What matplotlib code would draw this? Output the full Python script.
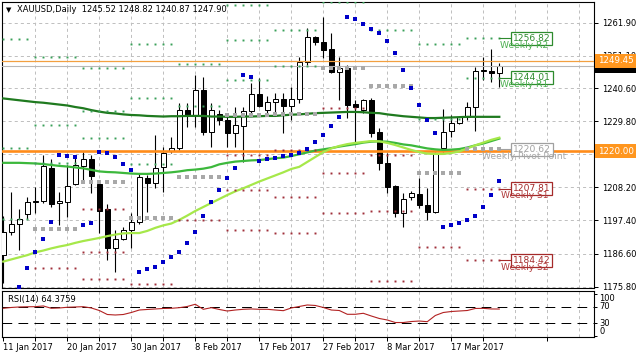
import numpy as np
import matplotlib
matplotlib.use("Agg")
from matplotlib import pyplot as plt
from matplotlib import transforms

plt.rcParams['font.family'] = ['DejaVu Sans']
plt.rcParams['lines.scale_dashes'] = False

nan = np.nan

# daily candles XAUUSD
opens = [1186.1, 1193.6, 1196.2, 1199.5, 1203.3, 1203.6, 1214.6, 1203.0, 1203.5, 1209.3,
         1215.3, 1217.4, 1209.3, 1201.2, 1188.3, 1191.4, 1194.3, 1196.8, 1211.4, 1209.7,
         1214.9, 1220.2, 1220.9, 1233.4, 1231.8, 1240.0, 1226.4, 1232.0, 1230.2, 1226.0,
         1228.3, 1233.1, 1238.6, 1233.4, 1236.1, 1237.0, 1234.8, 1236.9, 1249.2, 1257.3,
         1255.7, 1253.2, 1245.9, 1247.0, 1235.3, 1233.4, 1236.7, 1226.2, 1216.1, 1208.7,
         1199.7, 1205.0, 1206.0, 1202.5, 1200.3, 1220.9, 1226.6, 1229.1, 1231.2, 1234.5,
         1246.2, 1246.2, 1245.52]
highs = [1198.9, 1206.8, 1201.2, 1205.2, 1208.4, 1218.8, 1217.5, 1206.7, 1215.5, 1218.2,
         1219.8, 1218.8, 1210.6, 1202.8, 1194.3, 1195.4, 1199.7, 1212.8, 1212.2, 1225.3,
         1221.5, 1224.7, 1235.6, 1235.6, 1244.8, 1244.3, 1235.6, 1233.5, 1231.8, 1234.5,
         1234.5, 1242.1, 1243.8, 1238.1, 1238.9, 1238.9, 1241.0, 1250.8, 1260.1, 1257.6,
         1263.9, 1258.4, 1250.6, 1248.1, 1236.7, 1237.0, 1237.2, 1227.5, 1219.3, 1209.0,
         1206.3, 1207.1, 1211.2, 1207.9, 1219.8, 1233.7, 1231.8, 1231.5, 1236.1, 1247.6,
         1250.8, 1253.2, 1248.82]
lows = [1177.0, 1192.7, 1187.8, 1197.9, 1199.8, 1203.1, 1201.8, 1195.9, 1198.6, 1209.0,
        1210.6, 1206.5, 1193.2, 1184.5, 1180.7, 1191.0, 1188.3, 1196.3, 1200.3, 1207.9,
        1206.8, 1219.3, 1220.4, 1228.0, 1228.0, 1225.3, 1221.5, 1228.5, 1221.5, 1221.5,
        1216.6, 1231.8, 1234.5, 1231.8, 1232.4, 1225.8, 1230.2, 1235.6, 1248.1, 1254.6,
        1250.3, 1245.4, 1236.7, 1230.7, 1223.1, 1232.4, 1224.7, 1213.9, 1206.5, 1198.4,
        1195.2, 1204.1, 1201.4, 1197.6, 1200.0, 1219.8, 1224.5, 1228.9, 1230.2, 1226.7,
        1243.2, 1242.7, 1240.87]
closes = [1193.6, 1196.3, 1197.9, 1203.4, 1203.6, 1215.3, 1202.8, 1203.8, 1208.7, 1215.5,
          1217.4, 1212.0, 1200.6, 1188.3, 1191.3, 1194.3, 1196.8, 1211.7, 1209.7, 1214.6,
          1219.3, 1220.9, 1233.4, 1231.8, 1240.0, 1226.4, 1233.4, 1230.2, 1226.0, 1228.5,
          1233.1, 1238.6, 1234.8, 1236.1, 1237.0, 1234.7, 1236.9, 1249.2, 1257.1, 1255.5,
          1253.0, 1245.9, 1247.0, 1235.1, 1234.3, 1236.7, 1226.0, 1216.1, 1208.4, 1199.7,
          1204.3, 1206.3, 1202.5, 1200.3, 1219.3, 1226.4, 1229.3, 1231.2, 1234.5, 1246.2,
          1246.3, 1245.4, 1247.90]

# moving averages
ma_dark = [1237.2, 1236.9, 1236.6, 1236.3, 1236.0, 1235.8, 1235.5, 1235.2, 1234.9, 1234.4,
           1234.0, 1233.4, 1232.9, 1232.5, 1232.3, 1232.0, 1231.8, 1231.7, 1231.5, 1231.4,
           1231.3, 1231.4, 1231.4, 1231.5, 1231.5, 1231.5, 1231.3, 1231.3, 1231.2, 1231.2,
           1231.3, 1231.3, 1231.4, 1231.5, 1231.5, 1231.7, 1231.9, 1232.0, 1232.2, 1232.4,
           1232.5, 1232.6, 1232.7, 1232.8, 1232.8, 1232.7, 1232.5, 1232.4, 1232.0, 1231.7,
           1231.4, 1231.2, 1231.0, 1230.8, 1230.8, 1230.9, 1231.0, 1231.1, 1231.2, 1231.2,
           1231.2, 1231.2, 1231.2]
ma_mid = [1216.2, 1216.2, 1216.2, 1216.1, 1216.0, 1215.8, 1215.5, 1215.2, 1215.0, 1214.7,
          1214.4, 1213.9, 1213.4, 1213.2, 1213.1, 1212.9, 1212.7, 1212.6, 1212.6, 1212.7,
          1212.9, 1213.1, 1213.4, 1213.8, 1214.0, 1214.3, 1214.8, 1215.7, 1216.2, 1216.6,
          1216.8, 1217.0, 1217.1, 1217.4, 1217.7, 1217.9, 1218.4, 1219.0, 1219.6, 1220.2,
          1220.6, 1221.0, 1221.5, 1221.9, 1222.3, 1222.8, 1223.1, 1223.2, 1223.1, 1222.7,
          1222.2, 1221.9, 1221.4, 1220.9, 1220.6, 1220.4, 1220.5, 1220.7, 1221.2, 1221.9,
          1222.5, 1223.3, 1224.1]
ma_lime = [1184.0, 1184.7, 1185.4, 1186.1, 1187.0, 1187.6, 1188.3, 1188.9, 1189.4, 1190.1,
           1190.7, 1191.2, 1191.7, 1192.3, 1192.8, 1193.2, 1193.3, 1193.3, 1194.0, 1195.0,
           1195.8, 1196.4, 1197.6, 1199.0, 1200.5, 1201.8, 1203.1, 1204.4, 1205.7, 1206.9,
           1207.9, 1209.0, 1210.1, 1211.1, 1212.1, 1213.1, 1214.2, 1214.9, 1216.5, 1218.1,
           1219.7, 1220.9, 1221.7, 1222.3, 1222.7, 1223.0, 1223.3, 1223.2, 1222.7, 1222.0,
           1221.2, 1220.4, 1219.7, 1219.2, 1219.1, 1219.1, 1219.4, 1219.9, 1220.9, 1221.9,
           1222.8, 1223.7, 1224.4]

# parabolic SAR
sar = [nan, nan, 1175.6, 1181.9, 1187.1, 1191.4, 1196.9, 1218.8, 1218.4, 1218.2,
       1195.9, 1196.7, 1219.8, 1219.3, 1218.2, 1215.8, 1213.9, 1180.7, 1181.5, 1182.1,
       1183.9, 1185.4, 1187.1, 1190.2, 1193.6, 1198.9, 1203.4, 1207.3, 1211.2, 1214.6,
       1244.8, 1244.1, 1216.8, 1217.4, 1217.8, 1218.4, 1218.8, 1219.3, 1220.6, 1223.0,
       1225.3, 1228.2, 1231.1, 1263.9, 1263.1, 1261.5, 1259.8, 1258.6, 1255.9, 1251.9,
       1246.5, 1240.5, 1235.0, 1230.2, 1225.9, 1195.2, 1195.9, 1196.6, 1197.6, 1198.9,
       1201.8, 1205.7, 1210.4]

# weekly pivot levels, one value per week segment
seg_start = [0, 4, 10, 16, 22, 28, 34, 40, 46, 52, 58]
seg_end = [3, 9, 15, 21, 27, 33, 39, 45, 51, 57, 62]
piv_r3 = [1256.5, 1250.6, 1247.1, 1255.0, 1271.7, 1267.6, 1274.9, 1302.8, 1300.2, 1272.6, 1280.2]
piv_r2 = [1221.1, 1228.5, 1233.0, 1237.4, 1248.5, 1256.2, 1259.4, 1281.4, 1282.0, 1254.9, 1256.82]
piv_r1 = [1197.8, 1216.0, 1224.2, 1215.8, 1234.7, 1243.2, 1247.7, 1268.5, 1259.4, 1230.6, 1244.01]
piv_p = [nan, 1194.5, 1210.1, 1198.3, 1211.5, 1231.8, 1232.2, 1247.1, 1241.2, 1212.9, 1220.62]
piv_s1 = [nan, 1182.0, 1201.3, 1176.7, 1197.7, 1218.8, 1220.5, 1234.2, 1218.6, 1188.6, 1207.81]
piv_s2 = [nan, 1160.5, 1187.2, 1159.2, 1174.5, 1207.4, 1205.0, 1212.8, 1200.4, 1170.9, 1184.42]
piv_s3 = [nan, 1148.0, 1178.4, 1137.6, 1160.7, 1194.4, 1193.3, 1199.9, 1177.8, 1146.6, 1171.6]

# RSI(14)
rsi = [66.1, 68.1, 69.3, 69.8, 70.0, 71.7, 66.1, 66.9, 68.6, 69.3,
       70.0, 66.9, 60.8, 51.2, 50.0, 51.2, 56.0, 62.0, 63.3, 64.5,
       65.7, 66.1, 67.6, 70.5, 75.8, 63.7, 67.6, 63.3, 59.6, 62.0,
       63.7, 64.5, 63.7, 63.7, 62.0, 60.4, 66.9, 70.5, 74.1, 72.9,
       68.1, 62.0, 60.8, 51.7, 51.7, 54.1, 47.6, 41.6, 38.0, 31.9,
       31.9, 34.3, 35.5, 33.9, 48.8, 56.0, 58.4, 59.6, 60.8, 65.7,
       66.0, 64.5, 64.38]

price_ticks = [1261.90, 1251.10, 1240.60, 1229.80, 1219.00, 1208.20, 1197.40, 1186.60, 1175.80]
date_pos = [0, 8, 16, 24, 32, 40, 48, 56]
date_labels = ["11 Jan 2017", "20 Jan 2017", "30 Jan 2017", "8 Feb 2017",
               "17 Feb 2017", "27 Feb 2017", "8 Mar 2017", "17 Mar 2017"]

line_orange = 1220.00
line_orange_thin = 1249.45
bid = 1247.90

W, H = 637.0, 358.0
fig = plt.figure(figsize=(W / 100, H / 100), dpi=100)
ax = fig.add_axes([2 / W, 70 / H, 592.3 / W, 286 / H])
ax_rsi = fig.add_axes([2 / W, 21.5 / H, 592.3 / W, 45.5 / H])

n = len(opens)
x = np.arange(n)
o = np.array(opens); c = np.array(closes)
lo = np.minimum(o, c); hi = np.maximum(o, c)
up = c >= o

xlim = (-0.1625, 73.875)
grid_kw = dict(color='#c0c0c0', lw=0.72, ls=(0, (2.2, 2.2)))

# --- main panel
ax.set_xlim(*xlim)
ax.set_ylim(1175.38, 1268.65)
for v in np.arange(4, 74, 4):
    ax.axvline(v, zorder=0, **grid_kw)
for p in price_ticks:
    ax.axhline(p, zorder=0, **grid_kw)

ax.vlines(x, lows, highs, color='black', lw=0.8, zorder=2)
ax.bar(x, np.maximum(hi - lo, 0.3), bottom=lo, width=0.62,
       color=np.where(up, 'white', 'black'), edgecolor='black', lw=0.72, zorder=3)

ax.axhline(line_orange_thin, color='#f2a040', lw=0.9, zorder=4)
ax.axhline(bid, color='#b8b8b8', lw=0.8, zorder=4)
ax.axhline(line_orange, color='#ff8c1a', lw=1.9, zorder=4)

ax.plot(x, ma_dark, color='#1f7a1f', lw=1.6, zorder=5)
ax.plot(x, ma_mid, color='#3cb83c', lw=1.6, zorder=5)
ax.plot(x, ma_lime, color='#a6e84a', lw=1.6, zorder=5)

# pivots
green, grey, red = '#3aa05a', '#a8a8a8', '#a0303a'
levels = [(piv_r3, green, 1.4), (piv_r2, green, 1.4), (piv_r1, green, 1.4),
          (piv_p, grey, 2.2), (piv_s1, red, 1.4), (piv_s2, red, 1.4), (piv_s3, red, 1.4)]
for vals, col, ms in levels:
    for s, e, v in zip(seg_start, seg_end, vals):
        xs = np.arange(s, e + 1)
        ax.plot(xs, np.full(len(xs), v), 's', color=col, ms=ms, mew=0, zorder=6)

ax.plot(x, sar, 's', color='#0000c8', ms=2.2, mew=0, zorder=7)

labels_k = [(piv_r2[-1], 'Weekly R2', '#2e8b2e', '#4caf50'),
            (piv_r1[-1], 'Weekly R1', '#2e8b2e', '#4caf50'),
            (piv_p[-1], 'Weekly Pivot Point', '#a0a0a0', '#a8a8a8'),
            (piv_s1[-1], 'Weekly S1', '#a52a2a', '#b03a3a'),
            (piv_s2[-1], 'Weekly S2', '#a52a2a', '#b03a3a')]
for v, name, ec, tc in labels_k:
    ax.plot([seg_end[-1], 63.4], [v, v], color=ec, lw=0.8, zorder=7)
    ax.annotate(name, (65.15, v), xytext=(0, -5.2), textcoords='offset points',
                ha='center', va='center', fontsize=6.6, color=tc, zorder=9)
    ax.text(63.7, v, '%.2f' % v, ha='left', va='center', fontsize=6.6, color=ec, zorder=8,
            bbox=dict(boxstyle='square,pad=0.2', fc='white', ec=ec, lw=0.9))

ax.yaxis.tick_right()
ax.set_yticks(price_ticks)
ax.set_yticklabels(['%.2f' % p for p in price_ticks])
ax.tick_params(axis='y', length=3, width=0.72, pad=2.5, labelsize=6, colors='black')
ax.set_xticks([])
for sp in ax.spines.values():
    sp.set_linewidth(0.8)
    sp.set_color('black')

trans = transforms.blended_transform_factory(ax.transAxes, ax.transData)
ax.text(1 + 3.5 / 592.3, bid, '%.2f' % bid, transform=trans, ha='left', va='center',
        fontsize=6.3, color='white', clip_on=False, zorder=20,
        bbox=dict(boxstyle='square,pad=0.3', fc='black', ec='none'))
for v in [line_orange_thin, line_orange]:
    ax.text(1 + 3.5 / 592.3, v, '%.2f' % v, transform=trans, ha='left', va='center',
            fontsize=6.3, color='white', clip_on=False, zorder=21,
            bbox=dict(boxstyle='square,pad=0.3', fc='#ff961e', ec='none'))

fig.text(6 / W, 1 - 10 / H, '\u25bc', fontsize=5, va='center', ha='left')
fig.text(17 / W, 1 - 10 / H, 'XAUUSD,Daily  1245.52 1248.82 1240.87 1247.90',
         fontsize=6, va='center', ha='left')

# --- RSI panel
ax_rsi.set_xlim(*xlim)
ax_rsi.set_ylim(-1.7, 107.7)
for v in np.arange(4, 74, 4):
    ax_rsi.axvline(v, zorder=0, **grid_kw)
ax_rsi.axhline(70, color='black', lw=0.72, ls=(0, (7, 4.5)), zorder=1)
ax_rsi.axhline(30, color='black', lw=0.72, ls=(0, (7, 4.5)), zorder=1)
ax_rsi.plot(x, rsi, color='#b22222', lw=0.8, zorder=3)
ax_rsi.text(0.01, 98, 'RSI(14) 64.3759', transform=transforms.blended_transform_factory(
    ax_rsi.transAxes, ax_rsi.transData), fontsize=6, va='top', ha='left')

ax_rsi.yaxis.tick_right()
ax_rsi.set_yticks([0, 30, 70, 100])
ax_rsi.set_yticklabels([])
ax_rsi.tick_params(axis='y', length=2, width=0.72)
rtrans = transforms.blended_transform_factory(ax_rsi.transAxes, ax_rsi.transData)
for v, va in [(100, 'top'), (70, 'center'), (30, 'center'), (0, 'bottom')]:
    ax_rsi.text(1 + 5 / 592.3, v, str(v), transform=rtrans, fontsize=6, va=va,
                ha='left', clip_on=False)

ax_rsi.set_xticks(date_pos)
ax_rsi.set_xticklabels(date_labels, ha='left')
ax_rsi.set_xticks(np.arange(4, 74, 8), minor=True)
ax_rsi.tick_params(axis='x', which='both', length=3, width=0.72, pad=2, labelsize=6)
for sp in ax_rsi.spines.values():
    sp.set_linewidth(0.8)
    sp.set_color('black')

fig.savefig('out.png', dpi=100)
